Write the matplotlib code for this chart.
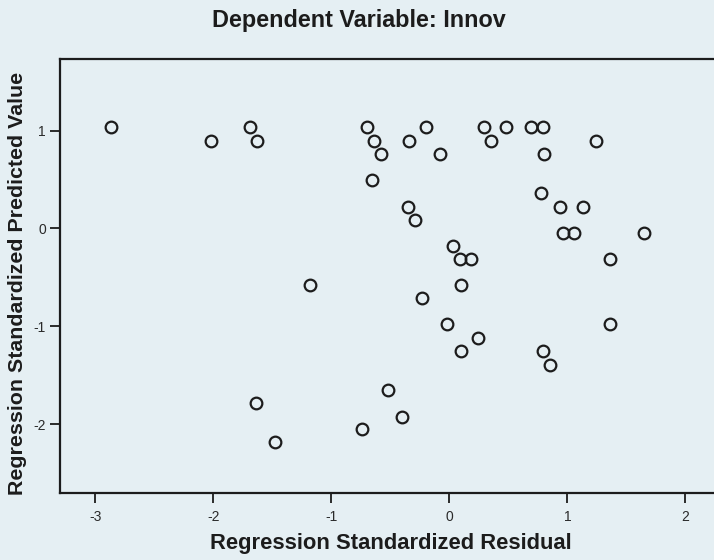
import matplotlib
matplotlib.use("Agg")
import matplotlib.pyplot as plt

residual = [-2.87, -2.02, -1.69, -1.63, -0.70, -0.64, -0.58, -0.66, -0.34, -0.20,
            -0.08, 0.29, 0.35, 0.48, 0.69, 0.79, 0.80, 1.24, 0.78, 0.94,
            1.13, -0.35, -0.29, 0.96, 1.06, 1.65, 0.03, 0.09, 0.18, 1.36,
            -1.18, 0.10, -0.23, -0.02, 1.36, 0.10, 0.24, 0.79, 0.85, -0.52,
            -1.64, -0.40, -0.74, -1.48]
predicted = [1.04, 0.89, 1.04, 0.89, 1.04, 0.89, 0.76, 0.49, 0.89, 1.04,
             0.76, 1.04, 0.89, 1.04, 1.04, 1.04, 0.76, 0.89, 0.36, 0.22,
             0.22, 0.22, 0.09, -0.05, -0.05, -0.05, -0.18, -0.31, -0.31, -0.31,
             -0.58, -0.58, -0.71, -0.98, -0.98, -1.25, -1.12, -1.25, -1.39, -1.65,
             -1.78, -1.92, -2.05, -2.18]
x_ticks = [-3, -2, -1, 0, 1, 2]
y_ticks = [-2, -1, 0, 1]

title = "Dependent Variable: Innov"
xlabel = "Regression Standardized Residual"
ylabel = "Regression Standardized Predicted Value"

W, H = 714, 560
bg = "#e5eff3"
ink = "#1c1c1c"

fig = plt.figure(figsize=(W / 100, H / 100), dpi=100, facecolor=bg)
left, right, top, bottom = 60, 722, 59, 493
ax = fig.add_axes([left / W, 1 - bottom / H, (right - left) / W, (bottom - top) / H])
ax.set_facecolor(bg)

ax.plot(residual, predicted, linestyle="none", marker="o", markersize=8.4,
        markerfacecolor="none", markeredgecolor=ink, markeredgewidth=1.6)

ax.set_xlim(-3.30, 2.31)
ax.set_ylim(-2.70, 1.73)
ax.set_xticks(x_ticks)
ax.set_yticks(y_ticks)
ax.set_xticklabels([str(t) for t in x_ticks])
ax.set_yticklabels([str(t) for t in y_ticks])

for s in ["left", "bottom", "top"]:
    ax.spines[s].set_linewidth(1.6)
    ax.spines[s].set_color(ink)
ax.spines["right"].set_visible(False)

ax.tick_params(axis="both", direction="out", length=7.5, width=1.3, color=ink,
               labelsize=10, labelcolor="#2a2a2a")
ax.tick_params(axis="x", pad=5)
ax.tick_params(axis="y", pad=2.5)
for lab in ax.get_xticklabels() + ax.get_yticklabels():
    lab.set_family("Liberation Sans")

fig.text(359 / W, 1 - 21 / H, title, ha="center", va="center",
         fontsize=16.8, fontweight="bold", family="Liberation Sans", color=ink)
fig.text(391 / W, 1 - 543 / H, xlabel, ha="center", va="center",
         fontsize=15.8, fontweight="bold", family="Liberation Sans", color=ink)
fig.text(18 / W, 1 - 283 / H, ylabel, ha="center", va="center", rotation=90,
         fontsize=15.4, fontweight="bold", family="Liberation Sans", color=ink)

fig.savefig("out.png", dpi=100, facecolor=bg)
